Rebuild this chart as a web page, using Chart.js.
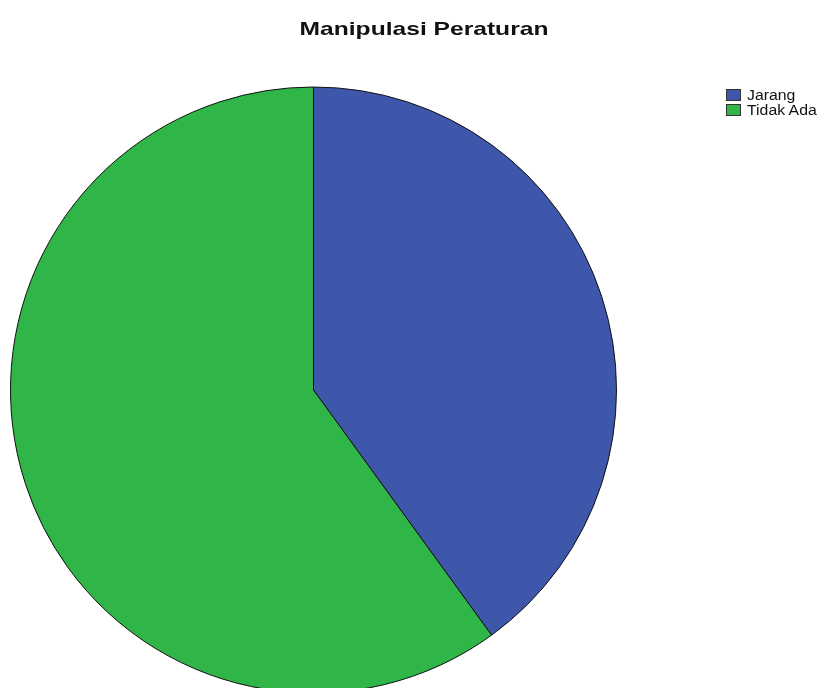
<!DOCTYPE html>
<html>
<head>
<meta charset="utf-8">
<script src="https://cdn.jsdelivr.net/npm/chart.js@4/dist/chart.umd.min.js"></script>
<style>
  html, body { margin: 0; padding: 0; background: #fff; overflow: hidden; }
  #wrap { position: relative; width: 823px; height: 688px; overflow: hidden; }
  #c { position: absolute; left: 0; top: 0; }
  #title { position: absolute; left: 424px; top: 18px; transform: translateX(-50%) scaleX(1.33); white-space: nowrap;
    font-family: "Liberation Sans", Arial, sans-serif; font-weight: bold; font-size: 18.5px; color: #111; }
  #legend { position: absolute; left: 726px; top: 88px; font-family: "Liberation Sans", Arial, sans-serif; font-size: 14px; color: #111; }
  .item { display: flex; align-items: center; height: 14.5px; white-space: nowrap; }
  .sw { width: 15px; height: 12px; border: 1px solid #333; margin-right: 6px; box-sizing: border-box; flex: none; }
  .tx { display: inline-block; transform: scaleX(1.13); transform-origin: left center; }
</style>
</head>
<body>
<div id="wrap">
  <canvas id="c" width="823" height="700" style="width:823px;height:700px"></canvas>
  <div id="title">Manipulasi Peraturan</div>
  <div id="legend"></div>
</div>
<script>
const categories = ["Jarang", "Tidak Ada"];
const values = [40, 60];
const colors = ["#3E57AB", "#2FB548"];

const leg = document.getElementById('legend');
categories.forEach((c, i) => {
  const d = document.createElement('div');
  d.className = 'item';
  d.innerHTML = '<span class="sw" style="background:' + colors[i] + '"></span><span class="tx">' + c + '</span>';
  leg.appendChild(d);
});

new Chart(document.getElementById('c'), {
  type: 'pie',
  data: {
    labels: categories,
    datasets: [{ data: values, backgroundColor: colors, borderColor: '#111', borderWidth: 1 }]
  },
  options: {
    responsive: false,
    animation: false,
    layout: { padding: { left: 10, right: 206, top: 86.5, bottom: 6.5 } },
    plugins: { legend: { display: false }, tooltip: { enabled: false }, title: { display: false } }
  }
});
</script>
</body>
</html>
